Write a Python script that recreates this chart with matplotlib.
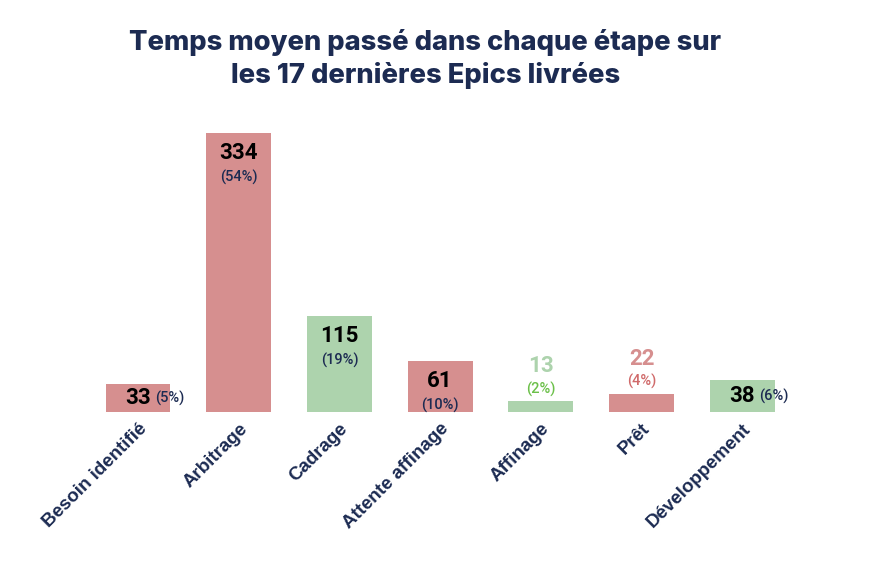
import matplotlib.pyplot as plt
import numpy as np

# Data
etapes = ["Besoin identifié", "Arbitrage", "Cadrage", "Attente affinage",
          "Affinage", "Prêt", "Développement"]
jours = [33, 334, 115, 61, 13, 22, 38]
pourcents = [5, 54, 19, 10, 2, 4, 6]
attente = [True, True, False, True, False, True, False]  # étapes d'attente en rouge

RED = "#D68F8F"
GREEN = "#ADD3AD"
NAVY = "#1C2B52"
RED_DARK = "#D06A6A"
GREEN_BRIGHT = "#6CC04A"

fig = plt.figure(figsize=(8.88, 5.62), dpi=100)
ax = fig.add_axes([0.0987, 0.2669, 0.794, 0.505])

x = np.arange(len(etapes))
colors = [RED if a else GREEN for a in attente]
bars = ax.bar(x, jours, width=0.645, color=colors, zorder=2)

ax.set_xlim(-0.5, len(etapes) - 0.5)
ax.set_ylim(0, 340)

VAL_FS = 16
PCT_FS = 10.5

for xi, v, p, a in zip(x, jours, pourcents, attente):
    if v >= 50:
        ax.annotate(str(v), (xi, v), xytext=(0, -14.5), textcoords="offset points",
                    ha="center", va="center", fontsize=VAL_FS, fontweight="bold",
                    family="Roboto", color="black")
        ax.annotate(f"({p}%)", (xi, v), xytext=(0, -32), textcoords="offset points",
                    ha="center", va="center", fontsize=PCT_FS, fontweight="medium",
                    family="Roboto", color=NAVY)
    elif v >= 30:
        ax.annotate(str(v), (xi, v / 2), xytext=(0, 0), textcoords="offset points",
                    ha="center", va="center", fontsize=VAL_FS, fontweight="bold",
                    family="Roboto", color="black")
        ax.annotate(f"({p}%)", (xi, v / 2), xytext=(12, 0), textcoords="offset points",
                    ha="left", va="center", fontsize=PCT_FS, fontweight="medium",
                    family="Roboto", color=NAVY)
    else:
        c1 = RED if a else GREEN
        c2 = RED_DARK if a else GREEN_BRIGHT
        ax.annotate(str(v), (xi, v), xytext=(0, 25), textcoords="offset points",
                    ha="center", va="center", fontsize=VAL_FS, fontweight="bold",
                    family="Roboto", color=c1)
        ax.annotate(f"({p}%)", (xi, v), xytext=(0, 8.5), textcoords="offset points",
                    ha="center", va="center", fontsize=PCT_FS, fontweight="medium",
                    family="Roboto", color=c2)

ax.set_xticks(x)
ax.set_xticklabels(etapes, rotation=45, ha="right", rotation_mode="anchor",
                   fontsize=13.5, fontweight="bold", family="Liberation Sans", color=NAVY)
ax.tick_params(axis="x", length=0, pad=6)
ax.set_yticks([])
for s in ax.spines.values():
    s.set_visible(False)

fig.text(0.479, 0.895, "Temps moyen passé dans chaque étape sur\nles 17 dernières Epics livrées",
         ha="center", va="center", fontsize=19.7, fontweight="heavy", family="Inter",
         color=NAVY, linespacing=1.3)

fig.savefig("out.png", dpi=100)
